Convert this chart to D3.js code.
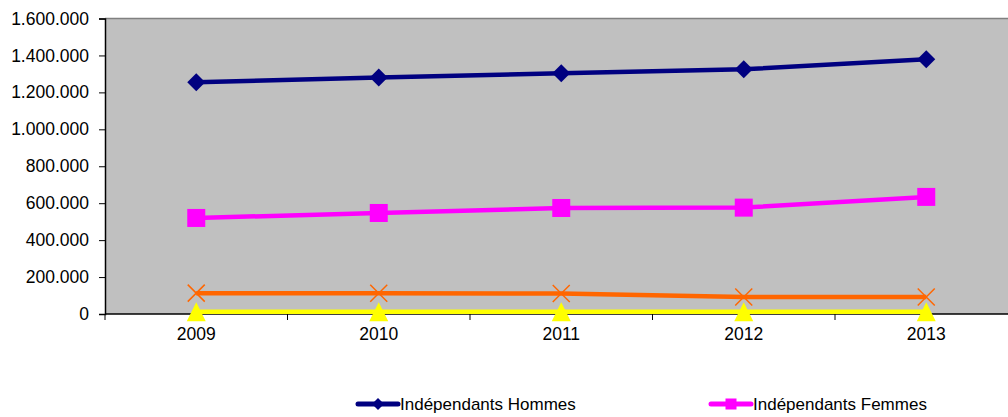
<!DOCTYPE html>
<html><head><meta charset="utf-8">
<script src="https://cdn.jsdelivr.net/npm/d3@7"></script>
<style>html,body{margin:0;padding:0;background:#fff;overflow:hidden}</style>
</head><body>
<script>
const categories = ["2009","2010","2011","2012","2013"];
const hommes = [1255000, 1280000, 1303000, 1325000, 1380000];
const femmes = [520000, 547000, 574000, 576000, 634000];
const serie3 = [113000, 112000, 111000, 92000, 92000];
const serie4 = [12000, 12000, 12000, 12000, 12000];
const yTicks = [0,200000,400000,600000,800000,1000000,1200000,1400000,1600000];
const seriesNames = ["Indépendants Hommes","Indépendants Femmes","Série 3","Série 4"];
const seriesColors = ["#000080","#FF00FF","#FF6600","#FFFF00"];
const seriesMarkers = ["diamond","square","x","triangle"];

(function(){
const W=1008,H=417;
const svg=d3.select("body").append("svg").attr("width",W).attr("height",H);
const pL=105, pT=18.5, pB=314, pR=1017.5;
const x=d3.scaleBand().domain(categories).range([pL,pR]);
const y=d3.scaleLinear().domain([0,1600000]).range([pB,pT]);
const fmt=v=>v===0?"0":d3.format(",")(v).replace(/,/g,".");
const FONT="Liberation Sans, Arial, sans-serif";

svg.append("rect").attr("x",pL).attr("y",pT).attr("width",pR-pL).attr("height",pB-pT).attr("fill","#C0C0C0");
svg.append("line").attr("x1",pL).attr("x2",pR).attr("y1",pT).attr("y2",pT).attr("stroke","#808080").attr("stroke-width",1.5);

const yAxis=svg.append("g").attr("transform",`translate(${pL},0)`)
  .call(d3.axisLeft(y).tickValues(yTicks).tickFormat(fmt).tickSize(6).tickPadding(10));
yAxis.select(".domain").attr("stroke","#000").attr("stroke-width",1.5);
yAxis.selectAll("line").attr("stroke","#000");
yAxis.selectAll("text").attr("font-family",FONT).attr("font-size",17.5).attr("fill","#000");

const xAxis=svg.append("g").attr("transform",`translate(0,${pB})`)
  .call(d3.axisBottom(x).tickSize(0).tickPadding(14));
xAxis.select(".domain").remove();
xAxis.selectAll("text").attr("font-family",FONT).attr("font-size",17.5).attr("fill","#000");
const bounds=categories.map(c=>x(c)).concat([x(categories[4])+x.bandwidth()]);
svg.append("g").selectAll("line").data(bounds).join("line")
  .attr("x1",d=>d).attr("x2",d=>d).attr("y1",pB).attr("y2",pB+6).attr("stroke","#000");
svg.append("line").attr("x1",pL).attr("x2",pR).attr("y1",pB).attr("y2",pB).attr("stroke","#000").attr("stroke-width",1.5);

const cx=c=>x(c)+x.bandwidth()/2;
const data=[hommes,femmes,serie3,serie4];
const line=d3.line().x((d,i)=>cx(categories[i])).y(d=>y(d));

function marker(g,type,color,px,py,s){
  if(type==="diamond"){
    g.append("path").attr("d",`M${px},${py-s/2}L${px+s/2},${py}L${px},${py+s/2}L${px-s/2},${py}Z`).attr("fill",color);
  } else if(type==="square"){
    g.append("rect").attr("x",px-s/2).attr("y",py-s/2).attr("width",s).attr("height",s).attr("fill",color);
  } else if(type==="x"){
    const h=s/2;
    g.append("path").attr("d",`M${px-h},${py-h}L${px+h},${py+h}M${px-h},${py+h}L${px+h},${py-h}`).attr("stroke",color).attr("stroke-width",1.5).attr("fill","none");
  } else if(type==="triangle"){
    g.append("path").attr("d",`M${px},${py-s*0.5}L${px+s/2},${py+s*0.5}L${px-s/2},${py+s*0.5}Z`).attr("fill",color);
  }
}

const sizes=[18,18,17,19];
for(let k=3;k>=0;k--){
  const g=svg.append("g");
  g.append("path").datum(data[k]).attr("d",line).attr("fill","none").attr("stroke",seriesColors[k]).attr("stroke-width",4.5);
  data[k].forEach((v,i)=>marker(g,seriesMarkers[k],seriesColors[k],cx(categories[i]),y(v),sizes[k]));
}

const legendX=[358,711], legendY=404;
[0,1].forEach(k=>{
  const g=svg.append("g");
  g.append("line").attr("x1",legendX[k]).attr("x2",legendX[k]+40).attr("y1",legendY).attr("y2",legendY)
    .attr("stroke",seriesColors[k]).attr("stroke-width",5).attr("stroke-linecap","round");
  marker(g,seriesMarkers[k],seriesColors[k],legendX[k]+20,legendY,k===0?12:11);
  g.append("text").attr("x",legendX[k]+42).attr("y",legendY+6).text(seriesNames[k])
    .attr("font-family",FONT).attr("font-size",17).attr("fill","#000");
});
})();
</script>
</body></html>
